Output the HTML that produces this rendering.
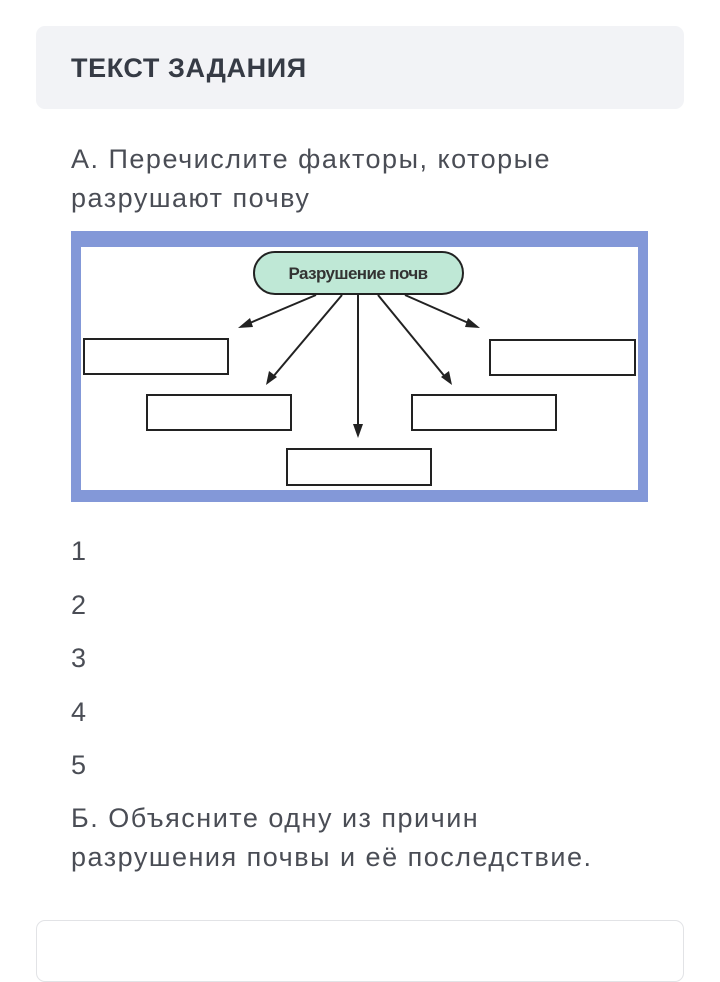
<!DOCTYPE html>
<html><head><meta charset="utf-8"><style>
body{margin:0;width:720px;height:958px;background:#fff;position:relative;overflow:hidden;font-family:"Liberation Sans",sans-serif;color:#4a4d55}
.t{position:absolute;left:71px;font-size:27px;white-space:nowrap;letter-spacing:1.5px;line-height:30px}
</style></head><body>
<div style="position:absolute;left:36px;top:26px;width:648px;height:83px;background:#f2f3f6;border-radius:9px"></div>
<div style="position:absolute;left:71px;top:53px;font-size:27px;font-weight:bold;color:#363b45;white-space:nowrap;letter-spacing:0.6px">ТЕКСТ ЗАДАНИЯ</div>
<div class="t" style="top:144px">А. Перечислите факторы, которые</div>
<div class="t" style="top:183px">разрушают почву</div>
<svg style="position:absolute;left:0;top:0" width="720" height="520">
<rect x="71" y="231" width="577" height="271" fill="#8398d8"/>
<rect x="81" y="247" width="557" height="243" fill="#fff"/>
<rect x="254" y="252" width="209" height="42" rx="21" fill="#bfe8d6" stroke="#222" stroke-width="2"/>
<text x="358" y="279" text-anchor="middle" font-family="Liberation Sans" font-size="17" fill="#333" font-weight="bold" letter-spacing="-0.6">Разрушение почв</text>
<g fill="none" stroke="#222" stroke-width="2">
<rect x="84" y="339" width="144" height="35"/>
<rect x="147" y="395" width="144" height="35"/>
<rect x="287" y="449" width="144" height="36"/>
<rect x="412" y="395" width="144" height="35"/>
<rect x="490" y="340" width="145" height="35"/>
<line x1="316" y1="295" x2="245" y2="325"/>
<line x1="342" y1="295" x2="272" y2="378"/>
<line x1="358" y1="295" x2="358" y2="430"/>
<line x1="378" y1="295" x2="446" y2="378"/>
<line x1="405" y1="295" x2="473" y2="325"/>
</g>
<g fill="#222">
<polygon points="238,328 250,318 253,327"/>
<polygon points="266,385 269,371 277,377"/>
<polygon points="358,438 353,424 363,424"/>
<polygon points="452,385 441,377 449,371"/>
<polygon points="480,328 465,327 468,318"/>
</g>
</svg>
<div class="t" style="top:536px">1</div>
<div class="t" style="top:590px">2</div>
<div class="t" style="top:643px">3</div>
<div class="t" style="top:697px">4</div>
<div class="t" style="top:750px">5</div>
<div class="t" style="top:803px">Б. Объясните одну из причин</div>
<div class="t" style="top:842px">разрушения почвы и её последствие.</div>
<div style="position:absolute;left:36px;top:920px;width:646px;height:60px;border:1px solid #e2e3e6;border-radius:9px"></div>
</body></html>
